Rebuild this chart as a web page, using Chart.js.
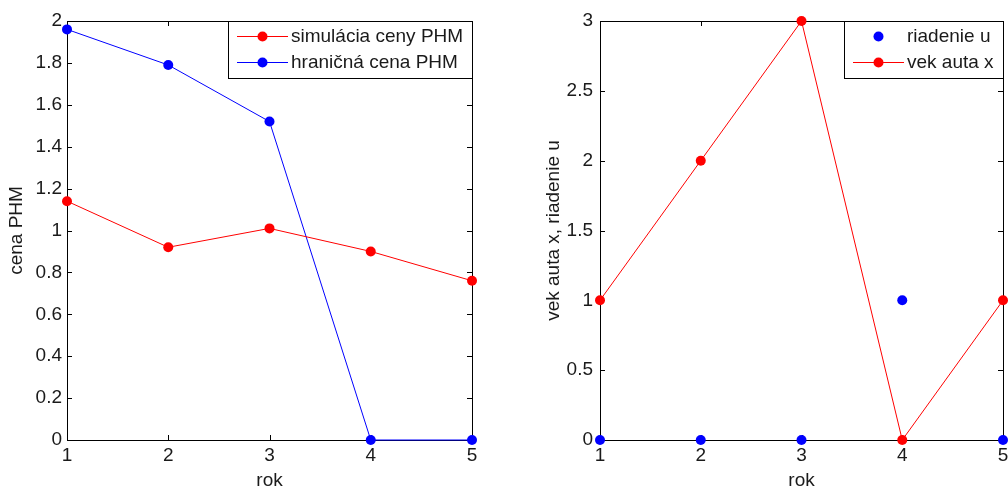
<!DOCTYPE html>
<html>
<head>
<meta charset="utf-8">
<script src="https://cdn.jsdelivr.net/npm/chart.js@4/dist/chart.umd.min.js"></script>
<style>
  html, body { margin: 0; padding: 0; background: #fff; overflow: hidden; }
  #wrap { position: relative; width: 1008px; height: 489px; }
  canvas { position: absolute; top: 0; }
  #left { left: 0; }
  #right { left: 504px; }
</style>
</head>
<body>
<div id="wrap">
  <canvas id="left" width="504" height="489"></canvas>
  <canvas id="right" width="504" height="489"></canvas>
</div>
<script>
// Years on the horizontal axis
const roky = [1, 2, 3, 4, 5];
const xTicks = [1, 2, 3, 4, 5];

// Left panel: fuel price simulation vs. threshold price
const simulaciaCeny = [1.14, 0.92, 1.01, 0.90, 0.76];
const hranicnaCena = [1.96, 1.79, 1.52, 0, 0];
const yTicksCena = [0, 0.2, 0.4, 0.6, 0.8, 1, 1.2, 1.4, 1.6, 1.8, 2];

// Right panel: control decision and car age
const riadenieU = [0, 0, 0, 1, 0];
const vekAuta = [1, 2, 3, 0, 1];
const yTicksVek = [0, 0.5, 1, 1.5, 2, 2.5, 3];

const FONT = '"Liberation Sans", Arial, sans-serif';
const FSIZE = 19;
const TXT = '#1a1a1a';
const RED = '#ff0000';
const BLUE = '#0000ff';

const pts = (ys) => roky.map((x, i) => ({ x, y: ys[i] }));
const fmt = (v) => String(Math.round(v * 10) / 10);

// Boxed axes with inward tick marks, drawn beneath the data
const framePlugin = {
  id: 'frame',
  beforeDatasetsDraw(chart) {
    const { ctx, chartArea: a, scales } = chart;
    const L = 5;
    ctx.save();
    ctx.strokeStyle = '#000';
    ctx.lineWidth = 1;
    ctx.beginPath();
    scales.x.ticks.forEach(t => {
      const px = Math.round(scales.x.getPixelForValue(t.value)) + 0.5;
      ctx.moveTo(px, a.bottom); ctx.lineTo(px, a.bottom - L);
      ctx.moveTo(px, a.top); ctx.lineTo(px, a.top + L);
    });
    scales.y.ticks.forEach(t => {
      const py = Math.round(scales.y.getPixelForValue(t.value)) + 0.5;
      ctx.moveTo(a.left, py); ctx.lineTo(a.left + L, py);
      ctx.moveTo(a.right, py); ctx.lineTo(a.right - L, py);
    });
    ctx.stroke();
    ctx.strokeRect(Math.round(a.left) + 0.5, Math.round(a.top) + 0.5,
                   Math.round(a.right - a.left), Math.round(a.bottom - a.top));
    ctx.restore();
  },
  afterDraw(chart, args, opts) {
    // Legend box in the upper right corner
    const entries = opts.entries || [];
    const { ctx, chartArea: a } = chart;
    ctx.save();
    ctx.font = FSIZE + 'px ' + FONT;
    const textW = Math.max(...entries.map(e => ctx.measureText(e.label).width));
    const sampleW = 51, padL = 9, gap = 3, padR = 9, rowH = 26;
    const w = padL + sampleW + gap + textW + padR;
    const h = 57;
    const x0 = Math.round(a.right - w), y0 = Math.round(a.top);
    ctx.fillStyle = '#fff';
    ctx.fillRect(x0, y0, Math.round(a.right) - x0, h);
    ctx.strokeStyle = '#000';
    ctx.lineWidth = 1;
    ctx.strokeRect(x0 + 0.5, y0 + 0.5, Math.round(a.right) - x0, h);
    entries.forEach((e, i) => {
      const cy = y0 + 15 + i * rowH;
      const sx = x0 + padL;
      if (e.line) {
        ctx.strokeStyle = e.color;
        ctx.beginPath();
        ctx.moveTo(sx, cy + 0.5); ctx.lineTo(sx + sampleW, cy + 0.5);
        ctx.stroke();
      }
      ctx.fillStyle = e.color;
      ctx.beginPath();
      ctx.arc(sx + sampleW / 2, cy + 0.5, 5, 0, Math.PI * 2);
      ctx.fill();
      ctx.fillStyle = TXT;
      ctx.textBaseline = 'middle';
      ctx.textAlign = 'left';
      ctx.fillText(e.label, sx + sampleW + gap, cy + 1);
    });
    ctx.restore();
  }
};

function makeOptions(cfg) {
  return {
    responsive: false,
    animation: false,
    events: [],
    layout: { padding: { top: 21, right: cfg.padRight, left: 0, bottom: 0 } },
    plugins: {
      legend: { display: false },
      tooltip: { enabled: false },
      frame: { entries: cfg.entries }
    },
    scales: {
      x: {
        type: 'linear', min: 1, max: 5,
        grid: { display: false, drawTicks: false },
        border: { display: false },
        afterBuildTicks: s => { s.ticks = xTicks.map(v => ({ value: v })); },
        afterFit: s => { s.height = 49; s.paddingLeft = 0; s.paddingRight = 0; },
        ticks: { autoSkip: false, maxRotation: 0, padding: 4, color: TXT,
                 font: { family: FONT, size: FSIZE }, callback: v => fmt(v) },
        title: { display: true, text: 'rok', color: TXT, padding: { top: 0, bottom: -3 },
                 font: { family: FONT, size: FSIZE } }
      },
      y: {
        type: 'linear', min: 0, max: cfg.yMax,
        grid: { display: false, drawTicks: false },
        border: { display: false },
        afterBuildTicks: s => { s.ticks = cfg.yTicks.map(v => ({ value: v })); },
        afterFit: s => { s.width = cfg.yWidth; s.paddingTop = 0; s.paddingBottom = 0; },
        ticks: { autoSkip: false, padding: cfg.tickPad, color: TXT,
                 font: { family: FONT, size: FSIZE }, callback: v => fmt(v) },
        title: { display: true, text: cfg.yTitle, color: TXT,
                 padding: { top: cfg.titlePad, bottom: 0 },
                 font: { family: FONT, size: FSIZE } }
      }
    }
  };
}

new Chart(document.getElementById('left'), {
  type: 'scatter',
  data: {
    datasets: [
      { label: 'simulácia ceny PHM', data: pts(simulaciaCeny), showLine: true,
        borderColor: RED, backgroundColor: RED, borderWidth: 1,
        pointRadius: 5, pointBorderWidth: 0, clip: false },
      { label: 'hraničná cena PHM', data: pts(hranicnaCena), showLine: true,
        borderColor: BLUE, backgroundColor: BLUE, borderWidth: 1,
        pointRadius: 5, pointBorderWidth: 0, clip: false }
    ]
  },
  options: makeOptions({
    padRight: 32, yWidth: 67, tickPad: 5, titlePad: 5, yMax: 2,
    yTicks: yTicksCena, yTitle: 'cena PHM',
    entries: [
      { label: 'simulácia ceny PHM', color: RED, line: true },
      { label: 'hraničná cena PHM', color: BLUE, line: true }
    ]
  }),
  plugins: [framePlugin]
});

new Chart(document.getElementById('right'), {
  type: 'scatter',
  data: {
    datasets: [
      { label: 'riadenie u', data: pts(riadenieU), showLine: false,
        borderColor: BLUE, backgroundColor: BLUE, borderWidth: 1,
        pointRadius: 5, pointBorderWidth: 0, clip: false },
      { label: 'vek auta x', data: pts(vekAuta), showLine: true,
        borderColor: RED, backgroundColor: RED, borderWidth: 1,
        pointRadius: 5, pointBorderWidth: 0, clip: false }
    ]
  },
  options: makeOptions({
    padRight: 3, yWidth: 96, tickPad: 7, titlePad: 38, yMax: 3,
    yTicks: yTicksVek, yTitle: 'vek auta x, riadenie u',
    entries: [
      { label: 'riadenie u', color: BLUE, line: false },
      { label: 'vek auta x', color: RED, line: true }
    ]
  }),
  plugins: [framePlugin]
});
</script>
</body>
</html>
